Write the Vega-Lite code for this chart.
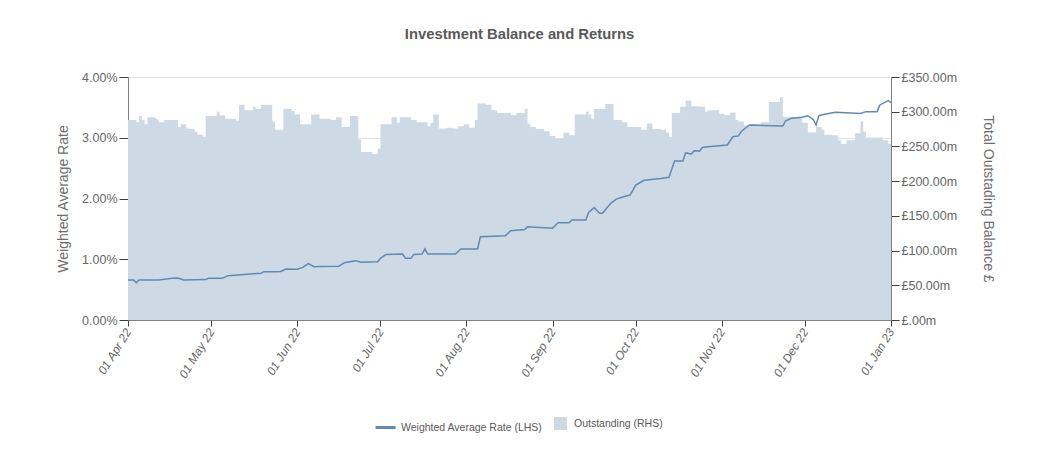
{
  "$schema": "https://vega.github.io/schema/vega-lite/v6.json",
  "autosize": {"type": "none"},
  "padding": {"left": 128, "top": 77, "right": 153, "bottom": 141},
  "width": 763,
  "height": 243,
  "background": "white",
  "title": {
    "text": "Investment Balance and Returns",
    "font": "Liberation Sans, Arial, sans-serif",
    "fontSize": 14.8,
    "fontWeight": "bold",
    "color": "#595959",
    "anchor": "middle",
    "frame": "group",
    "dx": 10,
    "offset": 29
  },
  "config": {
    "view": {"stroke": null},
    "axis": {
      "labelFont": "Liberation Sans, Arial, sans-serif",
      "labelColor": "#666666",
      "titleFont": "Liberation Sans, Arial, sans-serif",
      "titleFontWeight": "normal",
      "titleColor": "#6e6e6e",
      "titleFontSize": 14,
      "domainColor": "#808080",
      "tickColor": "#404040",
      "gridColor": "#e0e0e0"
    },
    "legend": {
      "labelFont": "Liberation Sans, Arial, sans-serif",
      "labelFontSize": 10.5,
      "labelColor": "#595959",
      "labelLimit": 300
    }
  },
  "datasets": {
    "bal": [
      {"date": "2022-04-01", "balance": 288},
      {"date": "2022-04-04", "balance": 285},
      {"date": "2022-04-05", "balance": 294},
      {"date": "2022-04-06", "balance": 288},
      {"date": "2022-04-07", "balance": 282},
      {"date": "2022-04-08", "balance": 292},
      {"date": "2022-04-11", "balance": 289},
      {"date": "2022-04-12", "balance": 285},
      {"date": "2022-04-14", "balance": 288},
      {"date": "2022-04-19", "balance": 278},
      {"date": "2022-04-20", "balance": 282},
      {"date": "2022-04-22", "balance": 276},
      {"date": "2022-04-23", "balance": 275},
      {"date": "2022-04-25", "balance": 271},
      {"date": "2022-04-26", "balance": 267},
      {"date": "2022-04-28", "balance": 264},
      {"date": "2022-04-29", "balance": 294},
      {"date": "2022-05-03", "balance": 300},
      {"date": "2022-05-04", "balance": 295},
      {"date": "2022-05-06", "balance": 290},
      {"date": "2022-05-10", "balance": 287},
      {"date": "2022-05-11", "balance": 310},
      {"date": "2022-05-13", "balance": 302},
      {"date": "2022-05-16", "balance": 307},
      {"date": "2022-05-17", "balance": 304},
      {"date": "2022-05-19", "balance": 310},
      {"date": "2022-05-23", "balance": 286},
      {"date": "2022-05-24", "balance": 274},
      {"date": "2022-05-27", "balance": 304},
      {"date": "2022-05-30", "balance": 301},
      {"date": "2022-05-31", "balance": 296},
      {"date": "2022-06-02", "balance": 282},
      {"date": "2022-06-06", "balance": 296},
      {"date": "2022-06-09", "balance": 290},
      {"date": "2022-06-13", "balance": 288},
      {"date": "2022-06-15", "balance": 292},
      {"date": "2022-06-17", "balance": 278},
      {"date": "2022-06-20", "balance": 294},
      {"date": "2022-06-23", "balance": 260},
      {"date": "2022-06-24", "balance": 242},
      {"date": "2022-06-28", "balance": 239},
      {"date": "2022-06-30", "balance": 247},
      {"date": "2022-07-01", "balance": 282},
      {"date": "2022-07-05", "balance": 292},
      {"date": "2022-07-07", "balance": 284},
      {"date": "2022-07-08", "balance": 292},
      {"date": "2022-07-12", "balance": 288},
      {"date": "2022-07-14", "balance": 285},
      {"date": "2022-07-18", "balance": 279},
      {"date": "2022-07-19", "balance": 284},
      {"date": "2022-07-20", "balance": 296},
      {"date": "2022-07-22", "balance": 276},
      {"date": "2022-07-25", "balance": 277},
      {"date": "2022-07-27", "balance": 276},
      {"date": "2022-07-29", "balance": 279},
      {"date": "2022-07-31", "balance": 282},
      {"date": "2022-08-02", "balance": 277},
      {"date": "2022-08-04", "balance": 288},
      {"date": "2022-08-05", "balance": 312},
      {"date": "2022-08-08", "balance": 310},
      {"date": "2022-08-10", "balance": 302},
      {"date": "2022-08-12", "balance": 298},
      {"date": "2022-08-17", "balance": 295},
      {"date": "2022-08-19", "balance": 298},
      {"date": "2022-08-22", "balance": 304},
      {"date": "2022-08-23", "balance": 283},
      {"date": "2022-08-24", "balance": 278},
      {"date": "2022-08-26", "balance": 275},
      {"date": "2022-08-29", "balance": 272},
      {"date": "2022-08-31", "balance": 265},
      {"date": "2022-09-02", "balance": 261},
      {"date": "2022-09-05", "balance": 270},
      {"date": "2022-09-07", "balance": 266},
      {"date": "2022-09-09", "balance": 296},
      {"date": "2022-09-13", "balance": 300},
      {"date": "2022-09-14", "balance": 296},
      {"date": "2022-09-15", "balance": 290},
      {"date": "2022-09-16", "balance": 304},
      {"date": "2022-09-20", "balance": 311},
      {"date": "2022-09-23", "balance": 288},
      {"date": "2022-09-26", "balance": 285},
      {"date": "2022-09-28", "balance": 278},
      {"date": "2022-10-03", "balance": 274},
      {"date": "2022-10-05", "balance": 283},
      {"date": "2022-10-07", "balance": 275},
      {"date": "2022-10-10", "balance": 274},
      {"date": "2022-10-12", "balance": 270},
      {"date": "2022-10-13", "balance": 264},
      {"date": "2022-10-14", "balance": 298},
      {"date": "2022-10-17", "balance": 307},
      {"date": "2022-10-19", "balance": 316},
      {"date": "2022-10-21", "balance": 308},
      {"date": "2022-10-24", "balance": 307},
      {"date": "2022-10-26", "balance": 300},
      {"date": "2022-10-27", "balance": 302},
      {"date": "2022-10-31", "balance": 297},
      {"date": "2022-11-02", "balance": 295},
      {"date": "2022-11-04", "balance": 299},
      {"date": "2022-11-06", "balance": 288},
      {"date": "2022-11-07", "balance": 286},
      {"date": "2022-11-09", "balance": 280},
      {"date": "2022-11-11", "balance": 282},
      {"date": "2022-11-15", "balance": 285},
      {"date": "2022-11-18", "balance": 314},
      {"date": "2022-11-22", "balance": 321},
      {"date": "2022-11-23", "balance": 293},
      {"date": "2022-11-24", "balance": 292},
      {"date": "2022-11-30", "balance": 284},
      {"date": "2022-12-02", "balance": 270},
      {"date": "2022-12-05", "balance": 278},
      {"date": "2022-12-07", "balance": 274},
      {"date": "2022-12-08", "balance": 267},
      {"date": "2022-12-11", "balance": 266},
      {"date": "2022-12-13", "balance": 259},
      {"date": "2022-12-14", "balance": 254},
      {"date": "2022-12-16", "balance": 259},
      {"date": "2022-12-19", "balance": 269},
      {"date": "2022-12-21", "balance": 286},
      {"date": "2022-12-22", "balance": 271},
      {"date": "2022-12-23", "balance": 263},
      {"date": "2022-12-29", "balance": 259},
      {"date": "2022-12-31", "balance": 254},
      {"date": "2023-01-01", "balance": 254}
    ],
    "rate": [
      {"date": "2022-04-01", "rate": 0.66},
      {"date": "2022-04-03", "rate": 0.66},
      {"date": "2022-04-04", "rate": 0.614},
      {"date": "2022-04-05", "rate": 0.658},
      {"date": "2022-04-12", "rate": 0.66},
      {"date": "2022-04-17", "rate": 0.686},
      {"date": "2022-04-19", "rate": 0.69},
      {"date": "2022-04-21", "rate": 0.66},
      {"date": "2022-04-29", "rate": 0.665},
      {"date": "2022-04-30", "rate": 0.686},
      {"date": "2022-05-05", "rate": 0.686},
      {"date": "2022-05-07", "rate": 0.73},
      {"date": "2022-05-13", "rate": 0.75},
      {"date": "2022-05-19", "rate": 0.77},
      {"date": "2022-05-20", "rate": 0.795},
      {"date": "2022-05-25", "rate": 0.795},
      {"date": "2022-05-26", "rate": 0.8},
      {"date": "2022-05-28", "rate": 0.84},
      {"date": "2022-06-01", "rate": 0.835},
      {"date": "2022-06-03", "rate": 0.866},
      {"date": "2022-06-05", "rate": 0.927},
      {"date": "2022-06-07", "rate": 0.877},
      {"date": "2022-06-09", "rate": 0.88},
      {"date": "2022-06-16", "rate": 0.885},
      {"date": "2022-06-18", "rate": 0.943},
      {"date": "2022-06-20", "rate": 0.96},
      {"date": "2022-06-22", "rate": 0.977},
      {"date": "2022-06-24", "rate": 0.95},
      {"date": "2022-06-30", "rate": 0.96},
      {"date": "2022-07-01", "rate": 1.015},
      {"date": "2022-07-03", "rate": 1.08},
      {"date": "2022-07-09", "rate": 1.085},
      {"date": "2022-07-10", "rate": 1.015},
      {"date": "2022-07-12", "rate": 1.015},
      {"date": "2022-07-13", "rate": 1.08},
      {"date": "2022-07-16", "rate": 1.085},
      {"date": "2022-07-17", "rate": 1.17},
      {"date": "2022-07-18", "rate": 1.085},
      {"date": "2022-07-28", "rate": 1.085},
      {"date": "2022-07-30", "rate": 1.17},
      {"date": "2022-08-05", "rate": 1.17},
      {"date": "2022-08-06", "rate": 1.37},
      {"date": "2022-08-15", "rate": 1.388},
      {"date": "2022-08-17", "rate": 1.47},
      {"date": "2022-08-22", "rate": 1.49},
      {"date": "2022-08-23", "rate": 1.536},
      {"date": "2022-09-01", "rate": 1.51},
      {"date": "2022-09-03", "rate": 1.6},
      {"date": "2022-09-07", "rate": 1.6},
      {"date": "2022-09-08", "rate": 1.646},
      {"date": "2022-09-13", "rate": 1.646},
      {"date": "2022-09-14", "rate": 1.77},
      {"date": "2022-09-16", "rate": 1.85},
      {"date": "2022-09-18", "rate": 1.756},
      {"date": "2022-09-19", "rate": 1.756},
      {"date": "2022-09-22", "rate": 1.92},
      {"date": "2022-09-24", "rate": 1.99},
      {"date": "2022-09-26", "rate": 2.02},
      {"date": "2022-09-29", "rate": 2.06},
      {"date": "2022-10-01", "rate": 2.22},
      {"date": "2022-10-04", "rate": 2.3},
      {"date": "2022-10-10", "rate": 2.33},
      {"date": "2022-10-13", "rate": 2.35},
      {"date": "2022-10-15", "rate": 2.617},
      {"date": "2022-10-18", "rate": 2.617},
      {"date": "2022-10-19", "rate": 2.754},
      {"date": "2022-10-21", "rate": 2.73},
      {"date": "2022-10-22", "rate": 2.787},
      {"date": "2022-10-24", "rate": 2.78},
      {"date": "2022-10-25", "rate": 2.84},
      {"date": "2022-10-27", "rate": 2.853},
      {"date": "2022-11-03", "rate": 2.88},
      {"date": "2022-11-05", "rate": 3.017},
      {"date": "2022-11-07", "rate": 3.03},
      {"date": "2022-11-08", "rate": 3.1},
      {"date": "2022-11-09", "rate": 3.14},
      {"date": "2022-11-11", "rate": 3.21},
      {"date": "2022-11-23", "rate": 3.193},
      {"date": "2022-11-24", "rate": 3.276},
      {"date": "2022-11-26", "rate": 3.32},
      {"date": "2022-11-30", "rate": 3.337},
      {"date": "2022-12-02", "rate": 3.363},
      {"date": "2022-12-04", "rate": 3.3},
      {"date": "2022-12-05", "rate": 3.21},
      {"date": "2022-12-06", "rate": 3.363},
      {"date": "2022-12-08", "rate": 3.386},
      {"date": "2022-12-12", "rate": 3.418},
      {"date": "2022-12-21", "rate": 3.4},
      {"date": "2022-12-23", "rate": 3.43},
      {"date": "2022-12-27", "rate": 3.43},
      {"date": "2022-12-28", "rate": 3.54},
      {"date": "2022-12-31", "rate": 3.61},
      {"date": "2023-01-01", "rate": 3.577}
    ]
  },
  "layer": [
    {
      "data": {"name": "bal"},
      "mark": {"type": "area", "interpolate": "step-after", "opacity": 1},
      "encoding": {
        "x": {
          "field": "date",
          "type": "temporal",
          "scale": {"type": "utc", "domain": [{"year": 2022, "month": 4, "date": 1, "utc": true}, {"year": 2023, "month": 1, "date": 1, "utc": true}]},
          "axis": {
            "title": null,
            "format": "%d %b %y",
            "values": [
              {"year": 2022, "month": 4, "date": 1, "utc": true},
              {"year": 2022, "month": 5, "date": 1, "utc": true},
              {"year": 2022, "month": 6, "date": 1, "utc": true},
              {"year": 2022, "month": 7, "date": 1, "utc": true},
              {"year": 2022, "month": 8, "date": 1, "utc": true},
              {"year": 2022, "month": 9, "date": 1, "utc": true},
              {"year": 2022, "month": 10, "date": 1, "utc": true},
              {"year": 2022, "month": 11, "date": 1, "utc": true},
              {"year": 2022, "month": 12, "date": 1, "utc": true},
              {"year": 2023, "month": 1, "date": 1, "utc": true}
            ],
            "labelAngle": -58,
            "labelFontStyle": "italic",
            "labelFontSize": 12,
            "tickSize": 6,
            "labelPadding": 3,
            "grid": false
          }
        },
        "y": {
          "field": "balance",
          "type": "quantitative",
          "scale": {"domain": [0, 350], "nice": false},
          "axis": {
            "orient": "right",
            "title": "Total Outstading Balance £",
            "values": [0, 50, 100, 150, 200, 250, 300, 350],
            "labelExpr": "datum.value == 0 ? '£.00m' : '£' + format(datum.value, '.2f') + 'm'",
            "labelFontSize": 12.5,
            "tickSize": 8,
            "grid": false,
            "titlePadding": 24
          }
        },
        "fill": {
          "datum": "Outstanding (RHS)",
          "type": "nominal",
          "scale": {"range": ["#cddae5"]},
          "legend": {
            "title": null,
            "orient": "none",
            "legendX": 425,
            "legendY": 339,
            "symbolType": "square",
            "symbolSize": 169,
            "symbolOpacity": 1,
            "labelOffset": 6
          }
        }
      }
    },
    {
      "data": {"name": "rate"},
      "mark": {"type": "line", "strokeWidth": 1.5},
      "encoding": {
        "x": {"field": "date", "type": "temporal"},
        "y": {
          "field": "rate",
          "type": "quantitative",
          "scale": {"domain": [0, 4], "nice": false},
          "axis": {
            "orient": "left",
            "title": "Weighted Average Rate",
            "values": [0, 1, 2, 3, 4],
            "labelExpr": "format(datum.value, '.2f') + '%'",
            "labelFontSize": 12.5,
            "tickSize": 9,
            "grid": true,
            "titlePadding": 11
          }
        },
        "stroke": {
          "datum": "Weighted Average Rate (LHS)",
          "type": "nominal",
          "scale": {"range": ["#6089b5"]},
          "legend": {
            "title": null,
            "orient": "none",
            "legendX": 246,
            "legendY": 339,
            "symbolType": "stroke",
            "symbolSize": 400,
            "symbolStrokeWidth": 3,
            "labelOffset": 4
          }
        }
      }
    }
  ],
  "resolve": {"scale": {"y": "independent"}}
}
